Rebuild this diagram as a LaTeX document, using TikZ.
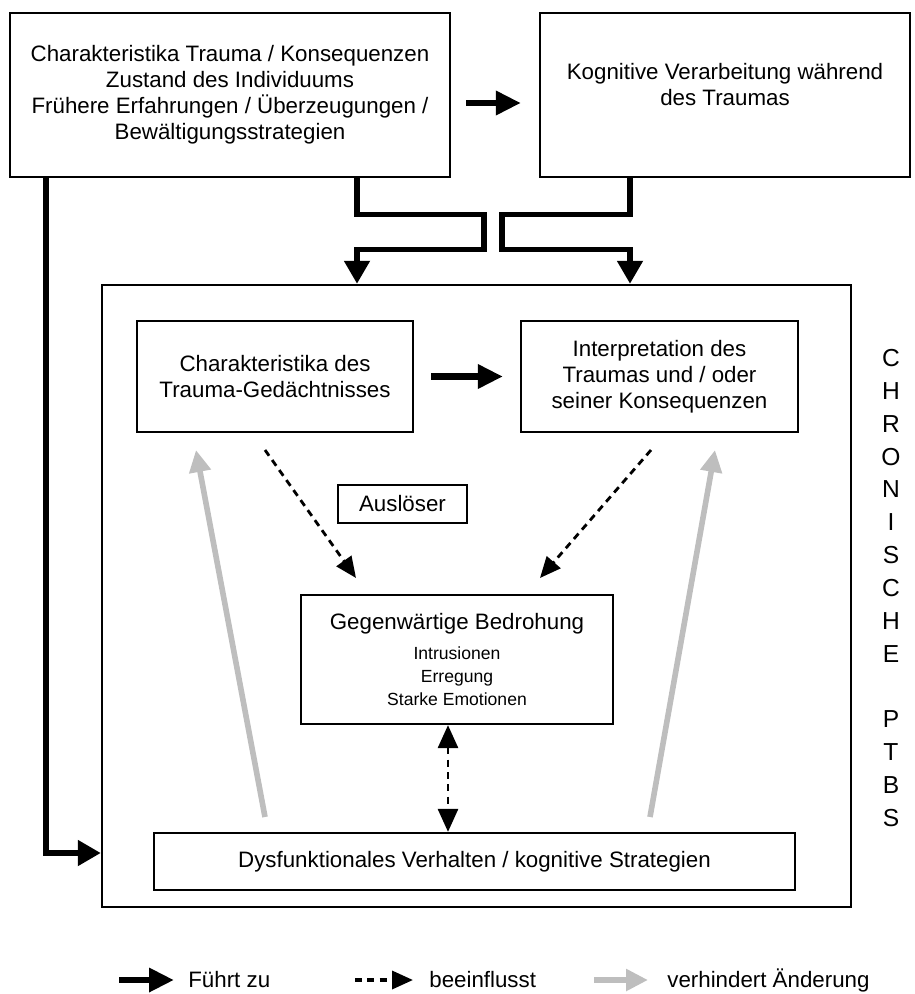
\documentclass[tikz,border=0pt]{standalone}
\usepackage{fontspec}
\setmainfont{Liberation Sans}
\usetikzlibrary{arrows.meta,positioning,calc}
\definecolor{blockc}{RGB}{190,190,190}
\newcommand{\symp}{\fontsize{10}{13}\selectfont}

\begin{document}
\begin{tikzpicture}[
  x=0.02cm, y=-0.02cm,
  font=\fontsize{12.7}{14.8}\selectfont,
  box/.style={draw, line width=1.3pt, align=center, inner sep=2pt},
  leads/.style={line width=3.8pt, -{Triangle[length=5mm, width=4.6mm]}},
  route/.style={line width=2.9pt, -{Triangle[length=4.6mm, width=5mm]}},
  infl/.style={line width=1.6pt, dash pattern=on 4pt off 3pt, -{Triangle[length=4.2mm, width=3.6mm]}},
  blocks/.style={line width=3.2pt, draw=blockc, -{Triangle[length=4.4mm, width=4.2mm]}},
  legtxt/.style={anchor=west, inner sep=0pt},
]
\useasboundingbox (0,0) rectangle (914,994);
% top row
\node[box, minimum width=8.8cm, minimum height=3.28cm] (trauma) at (230,95)
  {Charakteristika Trauma / Konsequenzen\\Zustand des Individuums\\Frühere Erfahrungen / Überzeugungen /\\Bewältigungsstrategien};
\node[box, minimum width=7.4cm, minimum height=3.28cm,
  label={[align=center, yshift=0.2cm]center:Kognitive Verarbeitung während\\des Traumas}] (cogproc) at (725,95) {};
\coordinate (ab1) at (466,103);
\draw[leads] (ab1) -- ($(ab1 -| cogproc.west)+(-18,0)$);
% chronic PTSD frame
\node[draw, line width=1.5pt, minimum width=14.98cm, minimum height=12.44cm] (ptsd) at (476.5,596) {};
\node[box, minimum width=5.52cm, minimum height=2.22cm] (memory) at (275,376.5)
  {Charakteristika des\\Trauma-Gedächtnisses};
\node[box, minimum width=5.54cm, minimum height=2.22cm] (interp) at (659.5,376.5)
  {Interpretation des\\Traumas und / oder\\seiner Konsequenzen};
\node[box, minimum width=2.58cm, minimum height=0.76cm] (trigger) at (402.5,504) {Auslöser};
\node[box, minimum width=6.24cm, minimum height=2.58cm] (threat) at (457,659.5)
  {Gegenwärtige Bedrohung\\[2.5pt]\symp Intrusionen\\[-1.7pt]\symp Erregung\\[-1.7pt]\symp Starke Emotionen};
\node[box, minimum width=12.82cm, minimum height=1.14cm] (behav) at (474.5,861.5)
  {Dysfunktionales Verhalten / kognitive Strategien};
\node[align=center, font=\fontsize{14}{18.7}\selectfont] (chron) at (891,588)
  {C\\H\\R\\O\\N\\I\\S\\C\\H\\E\\[18.7pt]P\\T\\B\\S};
% routes into the frame
\coordinate (ja) at (357,0);
\coordinate (jb) at (630,0);
\coordinate (jl) at (46,853);
\coordinate (jd) at (448,0);
\draw[route] (ja |- trauma.south) -- ++(0,36) -- ++(127,0) -- ++(0,35) -- ++(-127,0) -- (ja |- ptsd.north);
\draw[route] (jb |- cogproc.south) -- ++(0,36) -- ++(-128,0) -- ++(0,35) -- ++(128,0) -- (jb |- ptsd.north);
\draw[route] (jl |- trauma.south) -- (jl) -- (jl -| ptsd.west);
% inside the frame
\draw[leads] ($(memory.east)+(17,0)$) -- ($(interp.west)+(-17,0)$);
\coordinate (dl1) at (265,450); \coordinate (dl2) at (356,578);
\coordinate (dr1) at (651,450); \coordinate (dr2) at (540,578);
\draw[infl] (dl1) -- (dl2);
\draw[infl] (dr1) -- (dr2);
\draw[infl, {Triangle[length=4.6mm, width=4mm]}-{Triangle[length=4.6mm, width=4mm]}] (jd |- threat.south) -- (jd |- behav.north);
\coordinate (gl1) at (265,817); \coordinate (gl2) at (196,450);
\coordinate (gr1) at (650,817); \coordinate (gr2) at (715,450);
\draw[blocks] (gl1) -- (gl2);
\draw[blocks] (gr1) -- (gr2);
% legend
\node[legtxt] (leg1) at (188,980) {Führt zu};
\node[legtxt] (leg2) at (429,980) {beeinflusst};
\node[legtxt] (leg3) at (667,980) {verhindert Änderung};
\draw[leads] (leg1.west) ++(-69,0) -- ++(55,0);
\draw[infl, line width=2pt] (leg2.west) ++(-74,0) -- ++(58,0);
\draw[blocks] (leg3.west) ++(-73,0) -- ++(54,0);
\end{tikzpicture}
\end{document}
